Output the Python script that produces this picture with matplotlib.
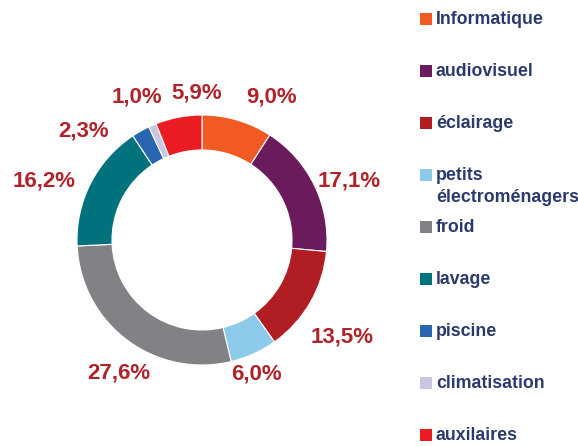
import matplotlib.pyplot as plt
from matplotlib.patches import Rectangle

plt.rcParams['font.family'] = ['Liberation Sans', 'DejaVu Sans']

# data
categories = ["Informatique", "audiovisuel", "éclairage", "petits\nélectroménagers",
              "froid", "lavage", "piscine", "climatisation", "auxilaires"]
shares = [9.0, 17.1, 13.5, 6.0, 27.6, 16.2, 2.3, 1.0, 5.9]
share_labels = ["9,0%", "17,1%", "13,5%", "6,0%", "27,6%", "16,2%", "2,3%", "1,0%", "5,9%"]
colors = ["#F15A22", "#6B1A5C", "#B01E23", "#8DCAEA", "#808285",
          "#00727D", "#2866B0", "#C9C6E2", "#EC1C24"]

# label centres (pixel coords of the picture, y from the top)
label_pos = [(272, 97), (349, 181), (342, 337), (256, 374), (119, 373),
             (44, 181), (84, 131), (137, 97), (197, 93)]

W, H = 578, 446
fig = plt.figure(figsize=(W / 100, H / 100), dpi=100)
ax = fig.add_axes([0, 0, 1, 1])

ax.pie(shares, colors=colors, startangle=90, counterclock=False,
       center=(202, H - 240), radius=125, frame=True,
       wedgeprops=dict(width=35, edgecolor="white", linewidth=0.8))
ax.set_xlim(0, W)
ax.set_ylim(0, H)
ax.set_aspect("equal")
ax.axis("off")

label_color = "#B0232A"
for txt, (x, y) in zip(share_labels, label_pos):
    ax.text(x, H - y, txt, ha="center", va="center", fontsize=16,
            fontweight="bold", color=label_color)

# legend drawn by hand so the two-line entry keeps the row spacing
text_color = "#2A3A6E"
row0, step = 19, 52.0
for i, (name, c) in enumerate(zip(categories, colors)):
    yc = H - (row0 + i * step)
    ax.add_patch(Rectangle((420, yc - 6), 12, 12, facecolor=c, edgecolor="none"))
    for j, ln in enumerate(name.split("\n")):
        ax.text(436, yc - j * 23, ln, ha="left", va="center", fontsize=12.8,
                fontweight="bold", color=text_color)

fig.savefig("out.png", dpi=100)
